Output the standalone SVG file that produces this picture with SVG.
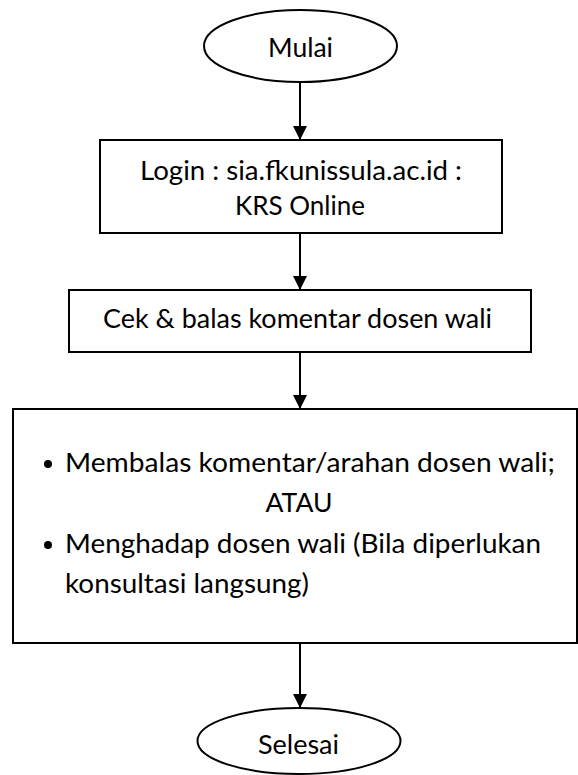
<svg xmlns="http://www.w3.org/2000/svg" width="578" height="775" viewBox="0 0 578 775">
<defs>
<style>
.shape{fill:#ffffff;stroke:#000000;stroke-width:2}
.txt{font-family:Lato,"Open Sans",sans-serif;font-size:26.5px;fill:#000000}
.mid{text-anchor:middle}
.conn{stroke:#000000;stroke-width:2;fill:none;marker-end:url(#arrow)}
</style>
<marker id="arrow" markerUnits="userSpaceOnUse" markerWidth="14" markerHeight="14" refX="14" refY="7" orient="auto">
<path d="M0,0 L14,7 L0,14 z" fill="#000000"/>
</marker>
</defs>
<rect width="578" height="775" fill="#ffffff"/>
<g id="connectors">
<line class="conn" x1="300" y1="82" x2="300" y2="140"/>
<line class="conn" x1="300" y1="233" x2="300" y2="290"/>
<line class="conn" x1="300" y1="352" x2="300" y2="409"/>
<line class="conn" x1="300" y1="643" x2="300" y2="708"/>
</g>
<g id="start">
<ellipse class="shape" cx="300.5" cy="46" rx="96.5" ry="36"/>
<text class="txt mid" x="300.5" y="57" textLength="65" lengthAdjust="spacingAndGlyphs">Mulai</text>
</g>
<g id="login">
<rect class="shape" x="100" y="140" width="402" height="93"/>
<text class="txt mid" x="301" y="180" textLength="322" lengthAdjust="spacingAndGlyphs">Login : sia.fkunissula.ac.id :</text>
<text class="txt mid" x="300" y="215" textLength="130" lengthAdjust="spacingAndGlyphs">KRS Online</text>
</g>
<g id="cek">
<rect class="shape" x="69" y="290" width="462" height="62"/>
<text class="txt mid" x="297.5" y="328" textLength="389" lengthAdjust="spacingAndGlyphs">Cek &amp; balas komentar dosen wali</text>
</g>
<g id="action">
<rect class="shape" x="13" y="409" width="564" height="234"/>
<circle cx="48" cy="464" r="4" fill="#000000"/>
<text class="txt" x="65" y="472" textLength="490" lengthAdjust="spacingAndGlyphs">Membalas komentar/arahan dosen wali;</text>
<text class="txt mid" x="299" y="512" textLength="67" lengthAdjust="spacingAndGlyphs">ATAU</text>
<circle cx="48" cy="545" r="4" fill="#000000"/>
<text class="txt" x="65" y="553" textLength="476" lengthAdjust="spacingAndGlyphs">Menghadap dosen wali (Bila diperlukan</text>
<text class="txt" x="65" y="593" textLength="244" lengthAdjust="spacingAndGlyphs">konsultasi langsung)</text>
</g>
<g id="end">
<ellipse class="shape" cx="299" cy="741" rx="101.5" ry="33"/>
<text class="txt mid" x="298.5" y="754" textLength="81" lengthAdjust="spacingAndGlyphs">Selesai</text>
</g>
</svg>
